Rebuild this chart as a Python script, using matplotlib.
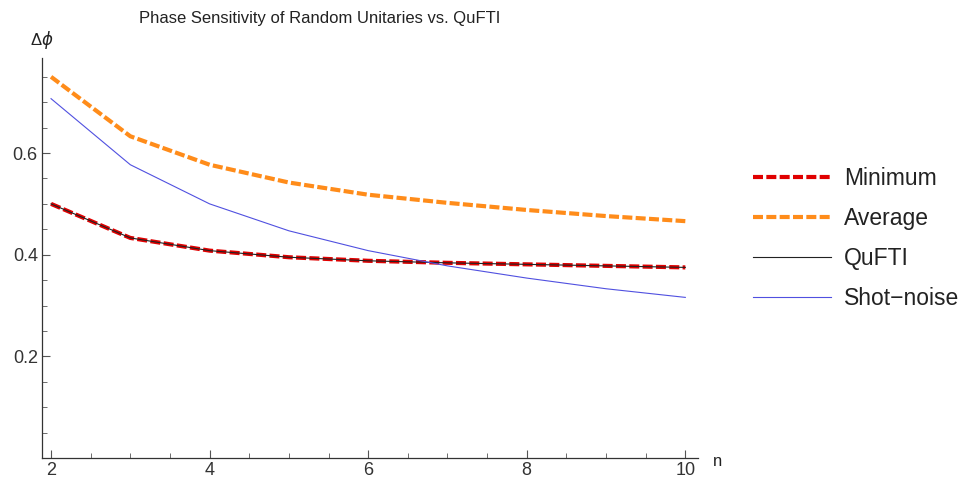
import matplotlib
matplotlib.use("Agg")
import matplotlib.pyplot as plt
from matplotlib.ticker import MultipleLocator, FixedLocator

n = [2, 3, 4, 5, 6, 7, 8, 9, 10]
minimum = [0.500, 0.433, 0.408, 0.395, 0.388, 0.384, 0.381, 0.378, 0.375]
average = [0.750, 0.633, 0.577, 0.542, 0.518, 0.502, 0.488, 0.476, 0.466]
qufti = [0.500, 0.433, 0.408, 0.395, 0.388, 0.384, 0.381, 0.378, 0.375]
shot_noise = [0.707, 0.577, 0.500, 0.447, 0.408, 0.378, 0.354, 0.333, 0.316]

xticks = [2, 4, 6, 8, 10]
yticks = [0.2, 0.4, 0.6]

plt.rcParams['font.family'] = ['Liberation Sans', 'DejaVu Sans']

W, H = 969, 484
fig = plt.figure(figsize=(W / 100, H / 100), dpi=100)
ax = fig.add_axes([42 / W, (H - 458) / H, (698 - 42) / W, (458 - 58) / H])

l1, = ax.plot(n, minimum, color='#E00000', lw=3.0, dashes=(2.4, 0.8), label='Minimum', zorder=3)
l2, = ax.plot(n, average, color='#FF8C1A', lw=3.0, dashes=(2.4, 0.8), label='Average', zorder=3)
l3, = ax.plot(n, qufti, color='#222222', lw=0.8, label='QuFTI', zorder=4)
l4, = ax.plot(n, shot_noise, color='#5050E0', lw=0.8, label='Shot\u2212noise', zorder=4)

ax.set_xlim(1.886, 10.16)
ax.set_ylim(0, 0.787)

for s in ['top', 'right']:
    ax.spines[s].set_visible(False)
for s in ['left', 'bottom']:
    ax.spines[s].set_color('#333333')
    ax.spines[s].set_linewidth(0.9)

ax.xaxis.set_major_locator(FixedLocator(xticks))
ax.xaxis.set_minor_locator(MultipleLocator(0.5))
ax.yaxis.set_major_locator(FixedLocator(yticks))
ax.yaxis.set_minor_locator(MultipleLocator(0.05))
ax.tick_params(which='major', direction='in', length=6, width=0.8, color='#555555',
               labelsize=13, labelcolor='#333333', pad=3)
ax.tick_params(which='minor', direction='in', length=3.5, width=0.6, color='#555555')
ax.set_xticklabels([str(v) for v in xticks])
ax.set_yticklabels(['%.1f' % v for v in yticks])

fig.text(320 / W, 1 - 18 / H, 'Phase Sensitivity of Random Unitaries vs. QuFTI',
         ha='center', va='center', fontsize=12, color='#222222')
fig.text(42 / W, 1 - 40 / H, '\u0394$\\phi$', ha='center', va='center', fontsize=12, color='#222222')
fig.text(718 / W, 1 - 462 / H, 'n', ha='center', va='center', fontsize=12, color='#222222')

leg = fig.legend(handles=[l1, l2, l3, l4], loc='center left',
                 bbox_to_anchor=(732 / W, 1 - 238.5 / H), frameon=False,
                 fontsize=16.5, handlelength=3.4, handletextpad=0.6, labelspacing=0.74)
for t in leg.get_texts():
    t.set_color('#222222')

fig.savefig('out.png', dpi=100)
